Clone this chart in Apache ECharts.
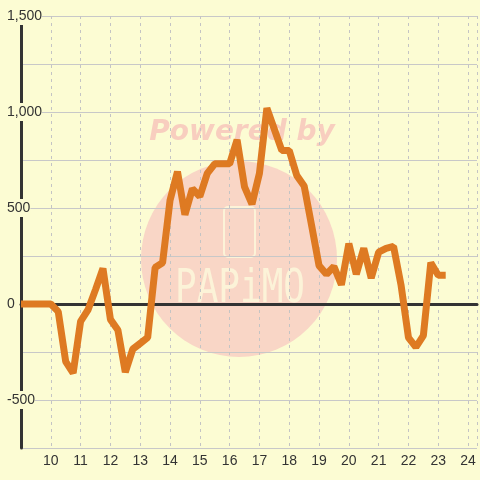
<!DOCTYPE html>
<html>
<head>
<meta charset="utf-8">
<script src="https://cdn.jsdelivr.net/npm/echarts@6/dist/echarts.min.js"></script>
<style>
html,body{margin:0;padding:0;background:#fcfcd3;}
#chart{width:480px;height:480px;}
</style>
</head>
<body>
<div id="chart"></div>
<script>
// time of day (hours)
var times = [9.0, 9.25, 9.5, 9.75, 10.0, 10.25, 10.5, 10.75, 11.0, 11.25, 11.5, 11.75,
  12.0, 12.25, 12.5, 12.75, 13.0, 13.25, 13.5, 13.75, 14.0, 14.25, 14.5, 14.75,
  15.0, 15.25, 15.5, 15.75, 16.0, 16.25, 16.5, 16.75, 17.0, 17.25, 17.5, 17.75,
  18.0, 18.25, 18.5, 18.75, 19.0, 19.25, 19.5, 19.75, 20.0, 20.25, 20.5, 20.75,
  21.0, 21.25, 21.5, 21.75, 22.0, 22.25, 22.5, 22.75, 23.0, 23.25];
var values = [0, 0, 0, 0, 0, -40, -300, -360, -90, -30, 75, 185,
  -80, -135, -355, -235, -205, -175, 190, 215, 540, 690, 465, 600,
  560, 680, 730, 730, 730, 855, 610, 520, 680, 1020, 910, 800,
  800, 670, 615, 410, 200, 155, 195, 100, 315, 155, 290, 135,
  270, 290, 300, 100, -175, -225, -165, 215, 150, 150];
var xTickLabels = [10, 11, 12, 13, 14, 15, 16, 17, 18, 19, 20, 21, 22, 23, 24];
var yTickLabels = [-500, 0, 500, 1000, 1500];

var bg = '#fcfcd3';
var chart = echarts.init(document.getElementById('chart'));
var data = times.map(function (t, i) { return [t, values[i]]; });

chart.setOption({
  backgroundColor: bg,
  animation: false,
  grid: {left: 21, right: 0, top: 16, bottom: 32, containLabel: false},
  graphic: [
    {type: 'circle', z: -10, shape: {cx: 239, cy: 259, r: 98}, style: {fill: '#f9d6c6'}},
    {type: 'text', z: -10, x: 242, y: 133, style: {text: 'Powered by', fill: '#f8cebf',
      font: 'italic bold 28px "DejaVu Sans"', align: 'center', verticalAlign: 'middle'}},
    {type: 'rect', z: -10, shape: {x: 224, y: 207, width: 31, height: 50, r: 4},
      style: {fill: 'none', stroke: '#fcf3d8', lineWidth: 2}},
    {type: 'text', z: -10, x: 240, y: 290, scaleY: 1.3,
      style: {text: 'PAPiMO', fill: '#fcf3d8', font: '36px "DejaVu Sans Mono"',
      align: 'center', verticalAlign: 'middle'}}
  ],
  xAxis: [
    {
      type: 'value', min: 9, max: 24.3, interval: 1,
      axisLine: {show: false, onZero: false},
      axisTick: {show: false},
      axisLabel: {
        margin: 6, color: '#333', fontSize: 14, fontFamily: 'Liberation Sans',
        showMinLabel: true, showMaxLabel: true,
        formatter: function (v) { return xTickLabels.indexOf(v) >= 0 ? String(v) : ''; }
      },
      splitLine: {show: true, lineStyle: {color: '#c4c4c4', width: 1, type: [3, 4]}}
    },
    {
      type: 'value', min: 9, max: 24.3, interval: 1, position: 'bottom',
      axisLine: {show: true, onZero: true, lineStyle: {color: '#333', width: 3}},
      axisTick: {show: false}, axisLabel: {show: false}, splitLine: {show: false}
    }
  ],
  yAxis: {
    type: 'value', min: -750, max: 1500, interval: 250,
    axisLine: {show: true, lineStyle: {color: '#333', width: 3}},
    axisTick: {show: false},
    axisLabel: {
      margin: 14, align: 'left', color: '#333', fontSize: 14, fontFamily: 'Liberation Sans',
      backgroundColor: bg, padding: [2, 0],
      formatter: function (v) {
        return yTickLabels.indexOf(v) >= 0 ? v.toLocaleString('en-US') : '';
      }
    },
    splitLine: {show: true, lineStyle: {color: '#c8c8c8', width: 1}}
  },
  series: [{
    type: 'line', xAxisIndex: 0, data: data, showSymbol: false,
    lineStyle: {color: '#de7a22', width: 7},
    itemStyle: {color: '#de7a22'}
  }]
});
</script>
</body>
</html>
